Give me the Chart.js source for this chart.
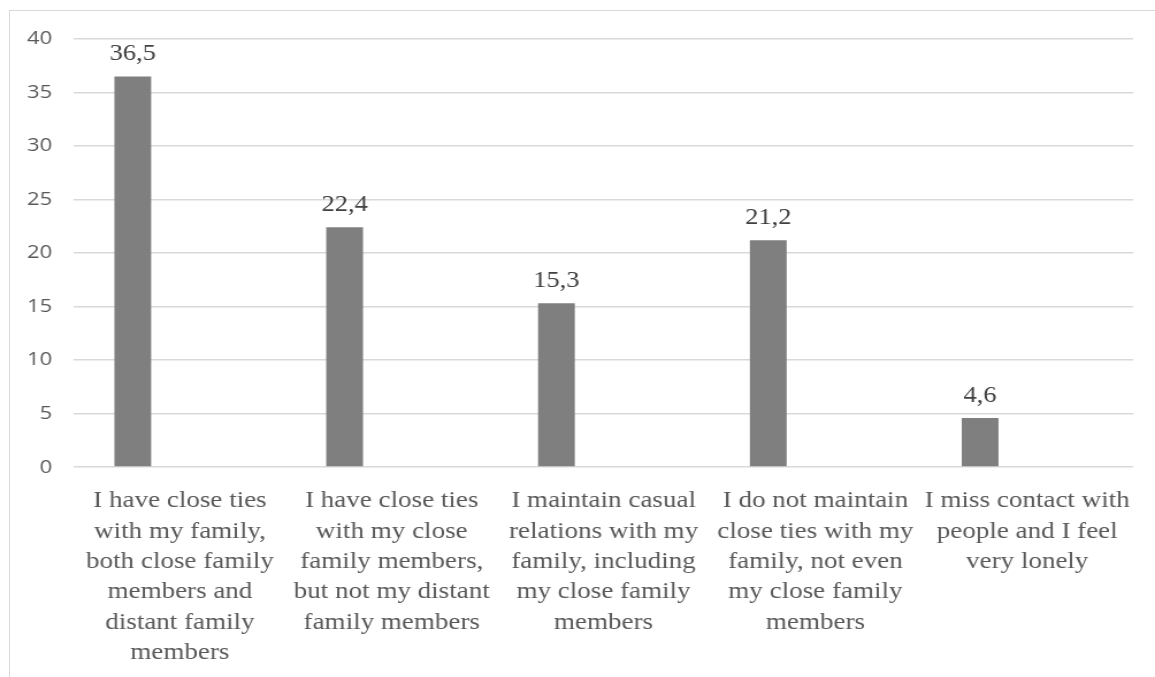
<!DOCTYPE html>
<html>
<head>
<meta charset="utf-8">
<script src="https://cdn.jsdelivr.net/npm/chart.js@4.4.1/dist/chart.umd.min.js"></script>
<style>
  html, body { margin: 0; padding: 0; background: #fff; overflow: hidden; width: 1155px; height: 677px; }
  #frame { position: absolute; left: 9px; top: 10px; width: 1200px; height: 700px; border-left: 1px solid #d9d9d9; border-top: 1px solid #d9d9d9; }
  #chart { position: absolute; left: 0; top: 0; }
</style>
</head>
<body>
<div id="frame"></div>
<!-- the source picture is stretched sideways, so the canvas is drawn narrower and stretched too -->
<canvas id="chart" width="1004" height="679" style="width: 1155px; height: 679px;"></canvas>
<script>
const categories = [
  ['I have close ties', 'with my family,', 'both close family', 'members and', 'distant family', 'members'],
  ['I have close ties', 'with my close', 'family members,', 'but not my distant', 'family members'],
  ['I maintain casual', 'relations with my', 'family, including', 'my close family', 'members'],
  ['I do not maintain', 'close ties with my', 'family, not even', 'my close family', 'members'],
  ['I miss contact with', 'people and I feel', 'very lonely']
]
const shares = [36.5, 22.4, 15.3, 21.2, 4.6]
// second series of the original chart is empty, it only takes up room
const secondSeries = [null, null, null, null, null]
const yTicks = [0, 5, 10, 15, 20, 25, 30, 35, 40]

const serif = '"Liberation Serif", "Times New Roman", serif'

// value above each bar, with decimal comma
const valueLabels = {
  id: 'valueLabels',
  afterDatasetsDraw (chart) {
    const ctx = chart.ctx
    const meta = chart.getDatasetMeta(0)
    ctx.save()
    ctx.font = '23px ' + serif
    ctx.fillStyle = '#404040'
    ctx.textAlign = 'center'
    ctx.textBaseline = 'alphabetic'
    meta.data.forEach((bar, i) => {
      ctx.fillText(String(shares[i]).replace('.', ','), bar.x, bar.y - 16)
    })
    ctx.restore()
  }
}

new Chart(document.getElementById('chart'), {
  type: 'bar',
  data: {
    labels: categories,
    datasets: [{
      data: shares,
      backgroundColor: '#7f7f7f',
      borderWidth: 0,
      categoryPercentage: 0.89,
      barPercentage: 0.39
    }, {
      data: secondSeries,
      backgroundColor: '#bfbfbf',
      borderWidth: 0,
      categoryPercentage: 0.89,
      barPercentage: 0.39
    }]
  },
  options: {
    responsive: false,
    animation: false,
    layout: {
      padding: { left: 4.6, right: 19, top: 39, bottom: 0 }
    },
    plugins: {
      legend: { display: false },
      tooltip: { enabled: false }
    },
    scales: {
      x: {
        grid: { display: false },
        border: { display: false },
        afterFit (axis) {
          // long category labels should not push the plot inwards
          axis.paddingLeft = 0
          axis.paddingRight = 0
        },
        ticks: {
          autoSkip: false,
          maxRotation: 0,
          minRotation: 0,
          padding: 11,
          color: '#595959',
          font: { family: serif, size: 23.5, lineHeight: 1.29 }
        }
      },
      y: {
        min: 0,
        max: 40,
        afterBuildTicks (axis) {
          axis.ticks = yTicks.map(v => ({ value: v }))
        },
        grid: { color: '#d9d9d9', lineWidth: 1.5, drawTicks: false },
        border: { display: false },
        ticks: {
          padding: 19,
          color: '#595959',
          font: { family: '"Open Sans", sans-serif', size: 19 }
        }
      }
    }
  },
  plugins: [valueLabels]
})
</script>
</body>
</html>
